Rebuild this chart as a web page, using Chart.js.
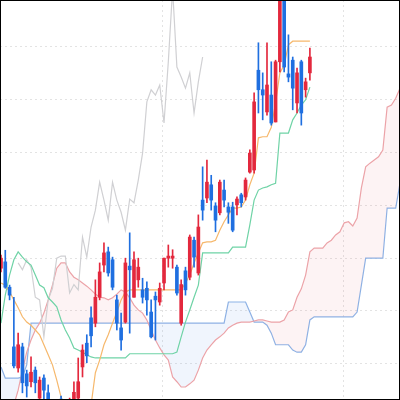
<!DOCTYPE html>
<html><head><meta charset="utf-8">
<script src="https://cdn.jsdelivr.net/npm/chart.js@4.4.0/dist/chart.umd.min.js"></script>
<style>html,body{margin:0;padding:0;background:#fff}canvas{display:block}</style>
</head><body>
<canvas id="c" width="400" height="400"></canvas>
<script>
// Candles (index 0..72)
const opens  = [78.1,79.3,74.5,63.2,59.2,63.2,58.1,56.6,58.8,53.5,57.3,54.5,51.0,52.5,53.3,50.5,51.0,52.2,53.5,59.4,63.9,68.7,67.7,72.6,78.7,81.2,79.7,72.1,66.8,67.9,78.5,72.6,75.9,74.0,74.3,69.8,72.8,71.7,75.3,80.0,80.0,78.3,67.7,77.6,76.4,83.4,77.2,91.0,91.4,93.9,89.9,88.6,92.9,89.7,89.7,90.1,92.0,91.6,96.3,96.7,115.6,111.9,107.7,110.9,105.8,117.2,130.0,114.9,117.5,109.4,117.2,111.9,115.1];
const highs  = [80.6,81.5,74.9,72.6,65.8,63.9,58.8,61.3,59.4,57.5,57.9,56.0,52.2,53.1,53.9,52.8,53.5,56.6,61.1,63.6,65.5,70.8,75.9,79.1,82.9,82.1,80.2,73.0,69.6,80.0,84.8,81.2,80.0,76.2,75.5,72.1,73.6,75.3,80.0,82.5,81.6,78.7,75.9,78.3,84.4,84.0,88.2,97.3,98.6,95.7,90.5,94.8,94.8,90.5,90.6,91.6,92.3,95.2,100.5,111.3,120.8,115.1,120.8,117.2,117.5,133.0,133.0,122.3,118.1,116.0,117.5,114.1,119.8];
const lows   = [77.4,74.3,72.1,59.2,58.4,54.5,53.7,55.6,54.5,52.8,53.1,51.2,49.5,49.8,50.0,49.5,50.0,51.2,52.8,57.5,60.2,63.2,67.0,72.1,77.4,76.6,74.0,66.4,62.6,67.7,65.8,72.6,74.5,71.5,69.2,64.9,64.5,71.1,74.0,78.3,78.1,73.0,67.3,73.0,75.9,78.3,76.8,87.2,90.5,89.1,85.0,88.2,89.7,86.6,85.0,88.2,89.7,91.0,96.1,96.1,107.5,106.2,107.1,105.2,105.8,115.3,115.3,113.4,108.1,107.5,105.2,110.5,113.7];
const closes = [80.0,74.5,73.0,59.6,63.6,56.4,55.8,58.4,56.4,56.9,55.0,52.2,52.0,50.5,51.0,52.0,53.0,54.6,56.6,62.6,61.5,65.3,72.6,77.4,81.0,77.2,74.5,67.7,64.5,79.1,77.8,79.7,78.3,72.6,72.1,65.1,72.1,74.3,80.0,80.4,80.4,73.4,75.0,74.0,84.0,80.2,85.9,89.1,94.4,91.0,87.2,94.4,91.0,88.7,85.3,91.2,90.5,94.8,99.9,109.6,111.9,110.9,112.8,105.6,117.2,131.0,116.2,114.3,112.2,115.1,107.5,113.4,118.1];

// Ichimoku lines
const tenkan = [75.3,74.9,73.6,72.1,70.6,68.9,67.9,67.3,66.4,65.5,63.6,61.7,59.8,56.9,53.7,51.2,49.4,48.4,48.4,48.4,49.4,52.2,58.3,60.7,63.6,65.5,67.7,69.8,72.1,73.6,74.0,74.0,74.0,74.0,74.0,74.0,74.0,74.0,74.0,74.0,74.0,74.0,74.0,75.3,76.8,79.1,81.0,82.9,83.1,83.1,83.4,85.3,86.9,88.2,89.5,89.5,89.7,91.0,93.9,96.1,102.8,103.0,103.0,104.8,109.4,115.1,116.6,120.4,121.1,121.1,121.1,121.1,121.1];
const kijun  = [67.7,73.0,76.8,79.7,81.2,80.2,79.3,78.7,76.8,74.9,74.4,72.5,71.7,70.8,68.3,66.4,64.9,63.0,62.6,62.2,61.7,61.3,61.1,61.1,61.1,61.1,61.1,61.1,61.1,61.1,61.9,61.9,61.9,61.9,61.9,61.9,61.9,61.9,61.9,61.9,61.9,62.2,65.1,67.9,70.2,72.6,74.9,81.0,81.0,81.0,81.0,81.0,81.0,81.0,82.1,82.1,82.1,82.1,86.3,91.0,92.9,93.3,93.5,93.9,94.2,103.7,103.7,103.7,106.2,107.5,109.0,110.0,112.4];
const senkouA = [47.5,48.4,49.7,52.2,55.0,58.8,62.2,64.5,66.4,67.7,69.6,72.1,74.9,78.1,79.1,79.1,77.4,76.4,75.9,75.3,74.7,74.0,73.2,72.6,72.5,72.1,72.5,73.2,74.0,73.6,72.5,71.1,70.2,69.6,68.3,66.4,64.5,63.0,61.7,60.7,57.5,56.6,55.6,55.6,56.2,56.9,58.8,61.1,62.6,63.6,64.5,65.1,65.8,66.8,67.3,67.7,67.9,67.9,67.9,68.1,68.3,68.3,68.1,67.9,67.9,67.9,68.3,69.8,70.2,72.6,74.2,76.8,81.2,81.9,81.9,81.9,82.9,83.4,84.4,85.0,86.7,86.9,86.1,87.6,93.3,97.3,98.0,98.6,99.2,100.5,108.6,109.0,110.3,112.2,113.7];
const senkouB = [59.4,57.3,57.3,57.3,57.3,57.5,59.8,67.7,67.7,67.7,67.7,67.7,67.7,67.7,67.7,67.7,67.7,67.7,67.7,67.7,67.7,67.7,67.7,67.7,67.7,67.7,67.7,67.7,67.7,67.7,67.7,67.7,67.7,67.7,67.7,67.7,67.7,67.7,67.7,67.7,67.7,67.7,67.7,67.7,67.7,67.7,67.7,67.7,67.7,67.7,67.7,67.7,67.7,71.7,71.7,71.7,71.7,71.7,69.8,67.9,67.9,67.9,67.3,65.8,63.6,63.6,63.6,63.6,62.6,62.2,62.2,63.6,68.3,68.9,68.9,68.9,68.9,68.9,68.9,68.9,68.9,68.9,68.9,69.8,74.9,80.0,80.0,80.0,80.0,80.0,89.5,89.5,89.5,94.2,96.7];
const chikouShift = 25;   // lagging span drawn this many bars back
const chikouFirst = 29;   // first close that the lagging span shows

// Axes
const xRange = [-0.23, 93.0];
const yRange = [53.14, 128.9];
const xGridAt = [37.76, 79.72];
const yGridAt = [60, 70, 80, 90, 100, 110, 120];

const UP = '#e3283d', DOWN = '#1f6fe0';
const pts = a => a.map((v, i) => ({x: i, y: v}));
const candleColors = closes.map((c, i) => c >= opens[i] ? UP : DOWN);
const chikou = closes.map((v, i) => ({x: i - chikouShift, y: v})).filter((p, i) => i >= chikouFirst);

const frame = {
  id: 'frame',
  afterDraw(chart) {
    const ctx = chart.ctx;
    ctx.save();
    ctx.strokeStyle = '#000';
    ctx.lineWidth = 1;
    ctx.strokeRect(0.5, 0.5, 399, 399);
    ctx.restore();
  }
};

new Chart(document.getElementById('c'), {
  type: 'bar',
  data: {
    datasets: [
      {type: 'bar', label: 'body', order: 0, grouped: false, barThickness: 3, minBarLength: 1,
       data: opens.map((o, i) => ({x: i, y: [o, closes[i]]})), backgroundColor: candleColors, borderWidth: 0},
      {type: 'bar', label: 'wick', order: 1, grouped: false, barThickness: 1,
       data: lows.map((l, i) => ({x: i, y: [l, highs[i]]})), backgroundColor: candleColors, borderWidth: 0},
      {type: 'line', label: 'tenkan', order: 2, data: pts(tenkan), borderColor: '#f6b86c', borderWidth: 1.2, pointRadius: 0, tension: 0, fill: false},
      {type: 'line', label: 'kijun', order: 3, data: pts(kijun), borderColor: '#6fd3a6', borderWidth: 1.2, pointRadius: 0, tension: 0, fill: false},
      {type: 'line', label: 'chikou', order: 4, data: chikou, borderColor: '#d0d0d3', borderWidth: 1.2, pointRadius: 0, tension: 0, fill: false},
      {type: 'line', label: 'senkouA', order: 5, data: pts(senkouA), borderColor: '#eca3a8', borderWidth: 1.2, pointRadius: 0, tension: 0,
       fill: {target: '+1', above: 'rgba(240,140,150,0.10)', below: 'rgba(130,170,235,0.12)'}},
      {type: 'line', label: 'senkouB', order: 6, data: pts(senkouB), borderColor: '#8db3e6', borderWidth: 1.2, pointRadius: 0, tension: 0, fill: false}
    ]
  },
  options: {
    responsive: false,
    devicePixelRatio: 1,
    animation: false,
    layout: {padding: 0},
    plugins: {legend: {display: false}, tooltip: {enabled: false}},
    scales: {
      x: {type: 'linear', min: xRange[0], max: xRange[1], offset: false,
          afterBuildTicks: s => { s.ticks = xGridAt.map(v => ({value: v})); },
          ticks: {display: false}, border: {display: false, dash: [2, 3]},
          grid: {offset: false, drawTicks: false, color: '#e3e3e3', lineWidth: 1}},
      y: {type: 'linear', min: yRange[0], max: yRange[1],
          afterBuildTicks: s => { s.ticks = yGridAt.map(v => ({value: v})); },
          ticks: {display: false}, border: {display: false, dash: [2, 3]},
          grid: {drawTicks: false, color: '#e3e3e3', lineWidth: 1}}
    }
  },
  plugins: [frame]
});
</script>
</body></html>
